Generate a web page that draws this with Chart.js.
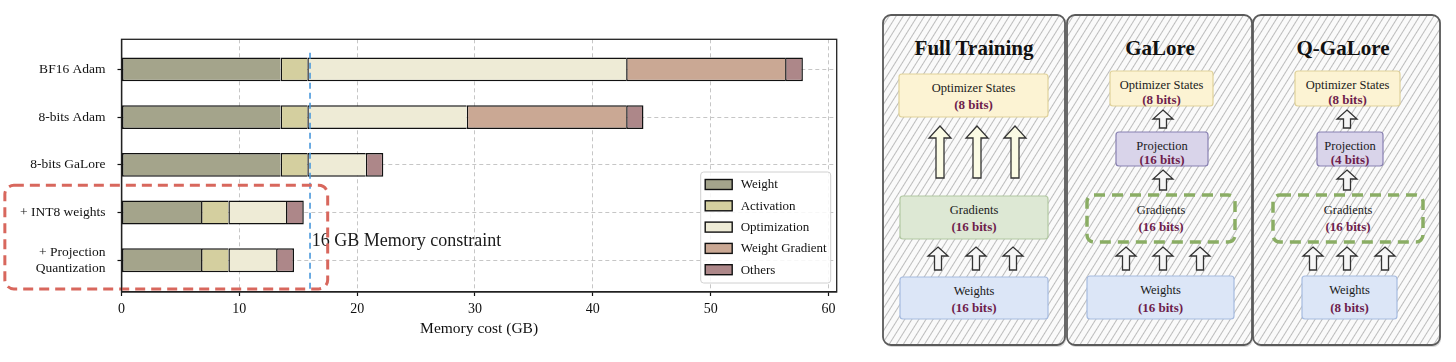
<!DOCTYPE html>
<html>
<head>
  <meta charset="UTF-8">
  <title>Memory cost / Q-GaLore</title>
  <script src="https://cdn.jsdelivr.net/npm/chart.js@4.4.0/dist/chart.umd.min.js"></script>
  <style>
    body { margin: 0; background: #fff; width: 1456px; height: 362px; overflow: hidden; position: relative; }
    #chartBox { position: absolute; left: 0; top: 0; width: 850px; height: 362px; }
    #diagram { position: absolute; left: 860px; top: 0; }
    #diagram text { font-family: "Liberation Serif", serif; }
  </style>
</head>
<body>
<div id="chartBox"><canvas id="memChart" width="850" height="362"></canvas></div>

<svg id="diagram" width="596" height="362" viewBox="860 0 596 362" xmlns="http://www.w3.org/2000/svg">
  <defs>
    <pattern id="hatch" patternUnits="userSpaceOnUse" width="6" height="6" patternTransform="rotate(32)">
      <rect width="6" height="6" fill="#fafafa"/>
      <line x1="0.5" y1="0" x2="0.5" y2="6" stroke="#b6b6b6" stroke-width="0.9"/>
    </pattern>
  </defs>
  <g id="panels"></g>
</svg>

<script>
  // ---- chart data (GB) ----
  var categories = ['BF16 Adam', '8-bits Adam', '8-bits GaLore', '+ INT8 weights', ['+ Projection', 'Quantization']];
  var weight      = [13.5, 13.5, 13.5, 6.75, 6.75];
  var activation  = [2.27, 2.27, 2.27, 2.32, 2.32];
  var optimization = [27.06, 13.53, 4.96, 4.89, 4.05];
  var weightGrad  = [13.49, 13.53, null, null, null];
  var others      = [1.51, 1.47, 1.49, 1.51, 1.52];
  var memoryLimit = 16;
  var seriesNames  = ['Weight', 'Activation', 'Optimization', 'Weight Gradient', 'Others'];
  var seriesColors = ['#a4a48b', '#d4cf9f', '#eeebd6', '#caa894', '#ad8789'];

  var serif = '"Liberation Serif", "Times New Roman", serif';

  function toPoints(arr) {
    return arr.map(function (v, i) { return { x: v, y: i }; });
  }

  var seriesValues = [weight, activation, optimization, weightGrad, others];
  var datasets = seriesValues.map(function (vals, k) {
    var last = (k === seriesValues.length - 1);
    return {
      label: seriesNames[k],
      data: toPoints(vals),
      backgroundColor: seriesColors[k],
      borderColor: '#111',
      borderWidth: last ? 1.5 : { top: 1.5, bottom: 1.5, left: 1.5, right: 0 },
      borderSkipped: false,
      barPercentage: 0.5,
      categoryPercentage: 1.0
    };
  });

  // extra drawing: frame, 16 GB line, red dashed group box, legend
  var decorPlugin = {
    id: 'decor',
    afterDatasetsDraw: function (chart) {
      var ctx = chart.ctx, a = chart.chartArea;
      var xs = chart.scales.x, ys = chart.scales.y;
      ctx.save();

      // memory constraint line
      var lx = xs.getPixelForValue(memoryLimit);
      ctx.strokeStyle = '#4a98dc';
      ctx.lineWidth = 1.6;
      ctx.setLineDash([6, 4]);
      ctx.beginPath();
      ctx.moveTo(lx, ys.getPixelForValue(-0.35));
      ctx.lineTo(lx, ys.getPixelForValue(4.6));
      ctx.stroke();

      ctx.setLineDash([]);
      ctx.fillStyle = '#1a1a1a';
      ctx.font = '18px ' + serif;
      ctx.textBaseline = 'middle';
      ctx.textAlign = 'left';
      ctx.fillText('16 GB Memory constraint', xs.getPixelForValue(16.15), ys.getPixelForValue(3.6));

      // red dashed group box
      var rl = xs.getPixelForValue(-9.9), rr = xs.getPixelForValue(17.5);
      var rt = ys.getPixelForValue(2.43), rb = ys.getPixelForValue(4.6);
      ctx.strokeStyle = '#d8675d';
      ctx.lineWidth = 3;
      ctx.setLineDash([10, 6]);
      ctx.beginPath();
      ctx.roundRect(rl, rt, rr - rl, rb - rt, 9);
      ctx.stroke();

      // frame
      ctx.setLineDash([]);
      ctx.strokeStyle = '#222';
      ctx.lineWidth = 1.3;
      ctx.strokeRect(a.left, a.top, a.right - a.left, a.bottom - a.top);
      ctx.restore();
    },
    afterDraw: function (chart) {
      var ctx = chart.ctx, a = chart.chartArea;
      var w = 130, h = 111;
      var left = a.right - 6 - w, top = a.bottom - 9 - h;
      ctx.save();
      ctx.fillStyle = 'rgba(255,255,255,0.85)';
      ctx.strokeStyle = '#d0d0d0';
      ctx.lineWidth = 1;
      ctx.beginPath();
      ctx.roundRect(left, top, w, h, 3);
      ctx.fill();
      ctx.stroke();
      ctx.font = '13px ' + serif;
      ctx.textBaseline = 'middle';
      ctx.textAlign = 'left';
      chart.data.datasets.forEach(function (ds, i) {
        var cy = top + 12.5 + i * 21.3;
        ctx.fillStyle = ds.backgroundColor;
        ctx.fillRect(left + 4.5, cy - 5, 27, 10);
        ctx.strokeStyle = '#111';
        ctx.lineWidth = 1.4;
        ctx.strokeRect(left + 4.5, cy - 5, 27, 10);
        ctx.fillStyle = '#111';
        ctx.fillText(ds.label, left + 40, cy + 0.5);
      });
      ctx.restore();
    }
  };

  new Chart(document.getElementById('memChart'), {
    type: 'bar',
    data: { datasets: datasets },
    options: {
      indexAxis: 'y',
      responsive: false,
      animation: false,
      devicePixelRatio: 1,
      layout: { padding: { top: 39.3, right: 13.3, bottom: 24, left: 0 } },
      plugins: { legend: { display: false }, tooltip: { enabled: false } },
      scales: {
        x: {
          type: 'linear',
          stacked: true,
          min: 0,
          max: 60.7,
          ticks: { stepSize: 10, includeBounds: false, padding: 5, color: '#111', font: { family: serif, size: 14 } },
          title: { display: true, text: 'Memory cost (GB)', color: '#111', padding: 0, font: { family: serif, size: 15.5 } },
          grid: { color: '#c6c6c6', lineWidth: 1, tickColor: '#111', tickLength: 4, tickWidth: 1.2 },
          border: { color: '#222', width: 1.3, dash: [4, 3] },
          afterFit: function (s) { s.height = 46; }
        },
        y: {
          type: 'linear',
          stacked: true,
          reverse: true,
          offset: false,
          min: -0.63,
          max: 4.665,
          afterBuildTicks: function (s) {
            s.ticks = categories.map(function (c, i) { return { value: i }; });
          },
          ticks: {
            padding: 12,
            color: '#111',
            font: { family: serif, size: 13.5 },
            callback: function (v) { return categories[v]; }
          },
          grid: { offset: false, color: '#c6c6c6', lineWidth: 1, tickColor: '#111', tickLength: 4, tickWidth: 1.2 },
          border: { color: '#222', width: 1.3, dash: [4, 3] },
          afterFit: function (s) { s.width = 121.5; }
        }
      }
    },
    plugins: [decorPlugin]
  });

  // ---- right-hand diagram ----
  var panels = [
    { x: 883, w: 182, title: 'Full Training', tx: 974,
      boxes: [
        { t: 'Optimizer States', b: '(8 bits)', x: 899, y: 74, w: 149, h: 43, fill: '#fcf3d3', stroke: '#e0d29a', t1: 88, t2: 104 },
        { t: 'Gradients', b: '(16 bits)', x: 900, y: 196, w: 148, h: 43, fill: '#dde8d4', stroke: '#b2c8a2', t1: 210, t2: 226 },
        { t: 'Weights', b: '(16 bits)', x: 900, y: 277, w: 148, h: 42, fill: '#dce6f7', stroke: '#a6bbe0', t1: 291, t2: 307 }
      ],
      arrows: [
        { cx: 940, y1: 126, y2: 178, big: true }, { cx: 977, y1: 126, y2: 178, big: true }, { cx: 1015, y1: 126, y2: 178, big: true },
        { cx: 938, y1: 247, y2: 270 }, { cx: 976, y1: 247, y2: 270 }, { cx: 1013, y1: 247, y2: 270 }
      ]
    },
    { x: 1067, w: 185, title: 'GaLore', tx: 1160,
      boxes: [
        { t: 'Optimizer States', b: '(8 bits)', x: 1110, y: 71, w: 103, h: 35, fill: '#fcf3d3', stroke: '#e0d29a', t1: 85, t2: 99 },
        { t: 'Projection', b: '(16 bits)', x: 1116, y: 132, w: 92, h: 34, fill: '#d9d4ea', stroke: '#8880b2', t1: 146, t2: 159 },
        { t: 'Gradients', b: '(16 bits)', x: 1087, y: 195, w: 148, h: 47, dashed: true, t1: 210, t2: 226 },
        { t: 'Weights', b: '(16 bits)', x: 1087, y: 276, w: 147, h: 43, fill: '#dce6f7', stroke: '#a6bbe0', t1: 290, t2: 307 }
      ],
      arrows: [
        { cx: 1163, y1: 110, y2: 128 }, { cx: 1163, y1: 170, y2: 190 },
        { cx: 1126, y1: 247, y2: 270 }, { cx: 1163, y1: 247, y2: 270 }, { cx: 1200, y1: 247, y2: 270 }
      ]
    },
    { x: 1253, w: 187, title: 'Q-GaLore', tx: 1343,
      boxes: [
        { t: 'Optimizer States', b: '(8 bits)', x: 1295, y: 71, w: 105, h: 35, fill: '#fcf3d3', stroke: '#e0d29a', t1: 85, t2: 99 },
        { t: 'Projection', b: '(4 bits)', x: 1317, y: 132, w: 66, h: 34, fill: '#d9d4ea', stroke: '#8880b2', t1: 146, t2: 159 },
        { t: 'Gradients', b: '(16 bits)', x: 1273, y: 195, w: 150, h: 47, dashed: true, t1: 210, t2: 226 },
        { t: 'Weights', b: '(8 bits)', x: 1302, y: 276, w: 95, h: 43, fill: '#dce6f7', stroke: '#a6bbe0', t1: 290, t2: 307 }
      ],
      arrows: [
        { cx: 1347, y1: 110, y2: 128 }, { cx: 1347, y1: 170, y2: 190 },
        { cx: 1313, y1: 247, y2: 270 }, { cx: 1347, y1: 247, y2: 270 }, { cx: 1385, y1: 247, y2: 270 }
      ]
    }
  ];

  var NS = 'http://www.w3.org/2000/svg';
  var root = document.getElementById('panels');
  function el(name, attrs, text) {
    var e = document.createElementNS(NS, name);
    for (var k in attrs) e.setAttribute(k, attrs[k]);
    if (text) e.textContent = text;
    root.appendChild(e);
    return e;
  }
  function arrowPath(a) {
    var sw = a.big ? 4 : 3.5, hw = a.big ? 11 : 10, hh = a.big ? 12 : 9;
    return 'M' + a.cx + ',' + a.y1 + ' L' + (a.cx + hw) + ',' + (a.y1 + hh) + ' L' + (a.cx + sw) + ',' + (a.y1 + hh) +
      ' L' + (a.cx + sw) + ',' + a.y2 + ' L' + (a.cx - sw) + ',' + a.y2 + ' L' + (a.cx - sw) + ',' + (a.y1 + hh) +
      ' L' + (a.cx - hw) + ',' + (a.y1 + hh) + ' Z';
  }

  panels.forEach(function (p) {
    el('rect', { x: p.x + 1, y: 17, width: p.w, height: 330, rx: 8, fill: '#d8d8d8' });
    el('rect', { x: p.x, y: 15, width: p.w, height: 330, rx: 8, fill: 'url(#hatch)', stroke: '#5a5a5a', 'stroke-width': 1.8 });
    el('text', { x: p.tx, y: 55, 'text-anchor': 'middle', 'font-size': 21, 'font-weight': 'bold', fill: '#111' }, p.title);
    p.boxes.forEach(function (b) {
      if (b.dashed) {
        el('rect', { x: b.x, y: b.y, width: b.w, height: b.h, rx: 7, fill: 'none', stroke: '#8aad64', 'stroke-width': 3.5, 'stroke-dasharray': '11 7' });
      } else {
        el('rect', { x: b.x, y: b.y, width: b.w, height: b.h, rx: 3, fill: b.fill, stroke: b.stroke, 'stroke-width': 1.2 });
      }
      el('text', { x: b.x + b.w / 2, y: b.t1 + 4, 'text-anchor': 'middle', 'font-size': 12.5, fill: '#1a1a1a' }, b.t);
      el('text', { x: b.x + b.w / 2, y: b.t2 + 4.5, 'text-anchor': 'middle', 'font-size': 13, 'font-weight': 'bold', fill: '#6e1d4c' }, b.b);
    });
    p.arrows.forEach(function (a) {
      el('path', { d: arrowPath(a), fill: a.big ? '#fbfbe4' : '#f6f6f6', stroke: '#333', 'stroke-width': 1.3, 'stroke-linejoin': 'miter' });
    });
  });
</script>
</body>
</html>
